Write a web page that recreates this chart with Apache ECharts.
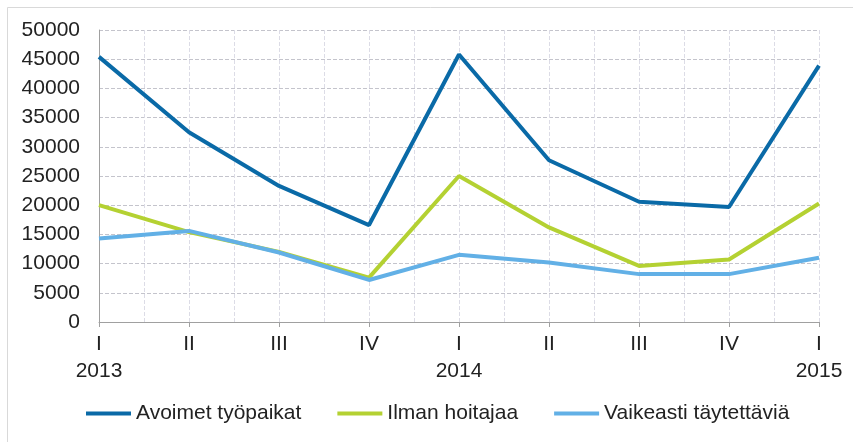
<!DOCTYPE html>
<html>
<head>
<meta charset="utf-8">
<script src="https://cdn.jsdelivr.net/npm/echarts@6/dist/echarts.min.js"></script>
<style>html,body{margin:0;padding:0;background:#fff}#c{width:853px;height:442px}</style>
</head>
<body>
<div id="c"></div>
<script>
const quarters = ['I','II','III','IV','I','II','III','IV','I'];
const years = ['2013','','','','2014','','','','2015'];
const seriesNames = ['Avoimet työpaikat','Ilman hoitajaa','Vaikeasti täytettäviä'];
const avoimet = [45400, 32500, 23300, 16600, 45800, 27700, 20600, 19700, 43900];
const ilmanHoitajaa = [20000, 15400, 12000, 7600, 25000, 16200, 9600, 10700, 20300];
const vaikeasti = [14300, 15600, 11900, 7200, 11500, 10200, 8200, 8200, 11000];
const yTicks = [0,5000,10000,15000,20000,25000,30000,35000,40000,45000,50000];

const categories = quarters.map((q,i)=> years[i] ? q + '\n' + years[i] : q);
const colors = ['#0a6aa7', '#b4d132', '#62b0e6'];
const font = 'Liberation Sans, Arial, sans-serif';

const chart = echarts.init(document.getElementById('c'), null, {renderer:'canvas'});
chart.setOption({
  animation:false,
  backgroundColor:'#fff',
  graphic:[{type:'rect', shape:{x:7.5,y:7.5,width:900,height:500}, style:{fill:'none',stroke:'#d9d9d9',lineWidth:1}, silent:true}],
  grid:{left:99,right:34,top:30,bottom:120},
  legend:{
    left:86, top:403, padding:0, itemWidth:45, itemHeight:4, itemGap:36, icon:'rect',
    textStyle:{fontFamily:font,fontSize:21,color:'#222'},
    data:seriesNames
  },
  xAxis:[{
    type:'category', data:categories, boundaryGap:false,
    axisLine:{lineStyle:{color:'#a0a0a0',width:1}},
    axisTick:{show:true,length:5,lineStyle:{color:'#a0a0a0'}},
    axisLabel:{fontFamily:font,fontSize:21,color:'#222',margin:9,lineHeight:27,interval:0},
    splitLine:{show:false}
  },{
    type:'value', min:0, max:8, interval:0.5, position:'top',
    axisLine:{show:false}, axisTick:{show:false}, axisLabel:{show:false},
    splitLine:{show:true,lineStyle:{color:'#dcdce6',type:'dashed',width:1}}
  }],
  yAxis:{
    type:'value', min:yTicks[0], max:yTicks[yTicks.length-1], interval:5000,
    axisLine:{show:true,lineStyle:{color:'#a0a0a0'}},
    axisTick:{show:false},
    axisLabel:{fontFamily:font,fontSize:21,color:'#222',margin:19,formatter:(v)=>String(v)},
    splitLine:{show:true,lineStyle:{color:'#c4c4cc',type:'dashed',width:1}}
  },
  series:[
    {name:seriesNames[0],type:'line',data:avoimet,symbol:'none',lineStyle:{width:4,color:colors[0]},itemStyle:{color:colors[0]}},
    {name:seriesNames[1],type:'line',data:ilmanHoitajaa,symbol:'none',lineStyle:{width:4,color:colors[1]},itemStyle:{color:colors[1]}},
    {name:seriesNames[2],type:'line',data:vaikeasti,symbol:'none',lineStyle:{width:4,color:colors[2]},itemStyle:{color:colors[2]}}
  ]
});
</script>
</body>
</html>
